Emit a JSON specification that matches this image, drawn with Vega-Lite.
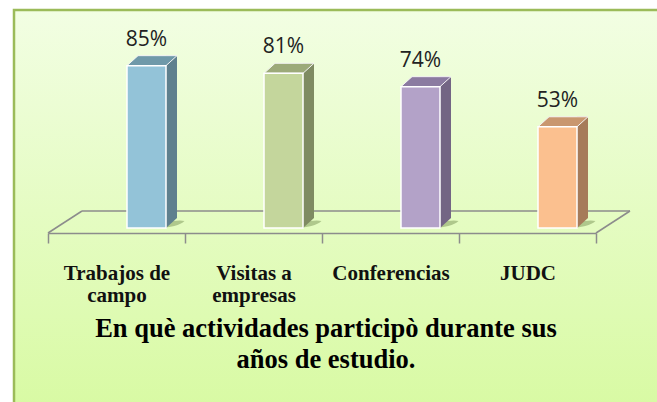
{
  "$schema": "https://vega.github.io/schema/vega-lite/v6.json",
  "width": 650,
  "height": 400,
  "autosize": {"type": "none"},
  "padding": {"left": 14, "top": 10, "right": 0, "bottom": 0},
  "background": "#ffffff",
  "view": {
    "fill": {"gradient": "linear", "x1": 0, "y1": 0, "x2": 0, "y2": 1,
      "stops": [{"offset": 0, "color": "#f2fee3"}, {"offset": 1, "color": "#d8faa3"}]},
    "stroke": "#9bbb59",
    "strokeWidth": 2.5
  },
  "title": {
    "text": ["En què actividades participò durante sus", "años de estudio."],
    "orient": "bottom",
    "anchor": "middle",
    "frame": "group",
    "font": "Liberation Serif",
    "fontSize": 26.5,
    "fontWeight": "bold",
    "color": "#000000",
    "lineHeight": 31,
    "offset": 0,
    "dy": -94,
    "dx": -13
  },
  "data": {
    "values": [
      {"actividad": "Trabajos de campo", "porcentaje": 0.85},
      {"actividad": "Visitas a empresas", "porcentaje": 0.81},
      {"actividad": "Conferencias", "porcentaje": 0.74},
      {"actividad": "JUDC", "porcentaje": 0.53}
    ]
  },
  "encoding": {
    "x": {
      "field": "actividad",
      "type": "nominal",
      "sort": null,
      "scale": {
        "domain": ["Trabajos de campo", "Visitas a empresas", "Conferencias", "JUDC"],
        "range": [34, 582],
        "paddingInner": 0,
        "paddingOuter": 0
      },
      "axis": {
        "title": null,
        "orient": "bottom",
        "offset": -177,
        "tickBand": "extent",
        "domainColor": "#8c8c8c",
        "domainWidth": 1.5,
        "tickColor": "#8c8c8c",
        "tickWidth": 1.5,
        "tickSize": 10,
        "labelFont": "Liberation Serif",
        "labelFontSize": 21,
        "labelFontWeight": "bold",
        "labelColor": "#111111",
        "labelPadding": 19,
        "labelLineHeight": 22,
        "labelAngle": 0,
        "labelOverlap": false,
        "labelExpr": "indexof(datum.label, ' ') > 0 ? [slice(datum.label, 0, lastindexof(datum.label, ' ')), slice(datum.label, lastindexof(datum.label, ' ') + 1)] : datum.label"
      }
    }
  },
  "layer": [
    {
      "data": {"values": [{}]},
      "mark": {"type": "rule", "color": "#8c8c8c", "strokeWidth": 1.5, "xOffset": -34.5, "x2Offset": 102.5, "yOffset": -17},
      "encoding": {
        "x": {"datum": "Trabajos de campo", "type": "nominal"},
        "x2": {"datum": "JUDC"},
        "y": {"datum": 0, "type": "quantitative", "scale": {"domain": [-0.9529, 1.1414], "nice": false, "zero": false}, "axis": null}
      }
    },
    {
      "data": {"values": [{}]},
      "mark": {"type": "rule", "color": "#8c8c8c", "strokeWidth": 1.5, "xOffset": -68.5, "x2Offset": -34.5, "yOffset": 5, "y2Offset": -17},
      "encoding": {
        "x": {"datum": "Trabajos de campo", "type": "nominal"},
        "x2": {"datum": "Trabajos de campo"},
        "y": {"datum": 0, "type": "quantitative"},
        "y2": {"datum": 0}
      }
    },
    {
      "data": {"values": [{}]},
      "mark": {"type": "rule", "color": "#8c8c8c", "strokeWidth": 1.5, "xOffset": 68.5, "x2Offset": 102.5, "yOffset": 5, "y2Offset": -17},
      "encoding": {
        "x": {"datum": "JUDC", "type": "nominal"},
        "x2": {"datum": "JUDC"},
        "y": {"datum": 0, "type": "quantitative"},
        "y2": {"datum": 0}
      }
    },
    {
      "mark": {"type": "point", "filled": true, "opacity": 0.4, "size": 4, "shape": "M-14,0C-8,-5 6,-9 14,-7C10,-3 0,0 -14,0Z", "xOffset": 54, "strokeWidth": 0, "color": "#5f7a3c"},
      "encoding": {
        "y": {"datum": 0, "type": "quantitative"}
      }
    },
    {
      "mark": {"type": "bar", "width": 11, "xOffset": 55, "yOffset": -10, "y2Offset": -10},
      "encoding": {
        "y": {"field": "porcentaje", "type": "quantitative"},
        "y2": {"datum": 0},
        "color": {"field": "actividad", "type": "nominal", "legend": null,
          "scale": {"domain": ["Trabajos de campo", "Visitas a empresas", "Conferencias", "JUDC"],
            "range": ["#5f808e", "#7f8b62", "#736584", "#a67b5a"]}}
      }
    },
    {
      "mark": {"type": "point", "filled": true, "opacity": 1, "size": 4, "shape": "M0,0L0,-10L11,-10Z", "xOffset": 49.5, "strokeWidth": 0},
      "encoding": {
        "y": {"datum": 0, "type": "quantitative"},
        "color": {"field": "actividad", "type": "nominal", "legend": null,
          "scale": {"domain": ["Trabajos de campo", "Visitas a empresas", "Conferencias", "JUDC"],
            "range": ["#5f808e", "#7f8b62", "#736584", "#a67b5a"]}}
      }
    },
    {
      "mark": {"type": "point", "filled": true, "opacity": 1, "size": 4, "shape": "M-19.5,0L19.5,0L30.5,-10L-8.5,-10Z", "xOffset": 30, "stroke": "#f4f4f4", "strokeWidth": 1},
      "encoding": {
        "y": {"field": "porcentaje", "type": "quantitative"},
        "color": {"field": "actividad", "type": "nominal", "legend": null,
          "scale": {"domain": ["Trabajos de campo", "Visitas a empresas", "Conferencias", "JUDC"],
            "range": ["#6f99a9", "#9caa79", "#8b7ba1", "#c9976f"]}},
        "stroke": {"value": "#f4f4f4"}
      }
    },
    {
      "mark": {"type": "bar", "width": 39, "xOffset": 30, "stroke": "#ffffff", "strokeWidth": 1.5},
      "encoding": {
        "y": {"field": "porcentaje", "type": "quantitative"},
        "y2": {"datum": 0},
        "color": {"field": "actividad", "type": "nominal", "legend": null,
          "scale": {"domain": ["Trabajos de campo", "Visitas a empresas", "Conferencias", "JUDC"],
            "range": ["#93c3d8", "#c4d69c", "#b3a2c8", "#fbc08f"]}}
      }
    },
    {
      "mark": {"type": "text", "xOffset": 30, "dy": -20, "baseline": "alphabetic", "align": "center", "font": "Open Sans", "fontSize": 21, "color": "#222222"},
      "encoding": {
        "y": {"field": "porcentaje", "type": "quantitative"},
        "text": {"field": "porcentaje", "type": "quantitative", "format": ".0%"}
      }
    }
  ],
  "resolve": {"scale": {"color": "independent"}}
}
